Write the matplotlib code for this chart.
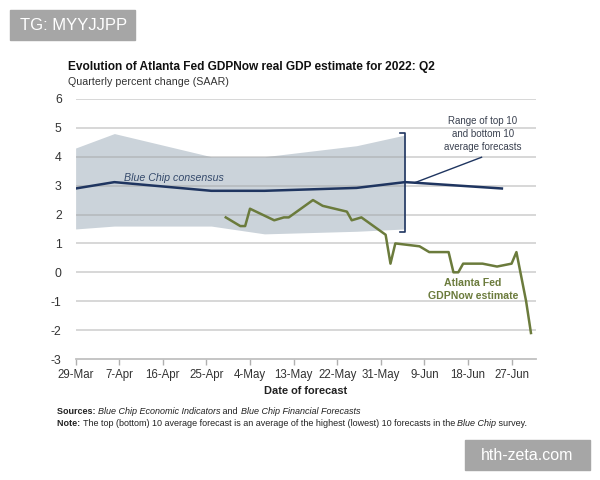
import matplotlib
matplotlib.use("Agg")
import matplotlib.pyplot as plt
import pandas as pd
import numpy as np

plt.rcParams['font.family'] = ['Liberation Sans', 'DejaVu Sans']

start = pd.Timestamp("2022-03-29")

# Range of top 10 / bottom 10 average forecasts
band_dates = ["2022-03-29", "2022-04-06", "2022-04-26", "2022-05-07", "2022-05-26", "2022-06-05"]
band_top = [4.3, 4.8, 4.0, 4.0, 4.38, 4.75]
band_bottom = [1.5, 1.6, 1.6, 1.33, 1.42, 1.5]

# Blue Chip consensus
bc_dates = ["2022-03-29", "2022-04-06", "2022-04-26", "2022-05-07", "2022-05-26", "2022-06-05", "2022-06-07", "2022-06-25"]
bc_values = [2.9, 3.12, 2.82, 2.82, 2.92, 3.12, 3.1, 2.9]

# Atlanta Fed GDPNow estimate
gdp_dates = ["2022-04-29", "2022-05-02", "2022-05-03", "2022-05-04", "2022-05-09", "2022-05-11",
             "2022-05-12", "2022-05-17", "2022-05-19", "2022-05-24", "2022-05-25", "2022-05-27",
             "2022-06-01", "2022-06-02", "2022-06-03", "2022-06-08", "2022-06-10", "2022-06-14",
             "2022-06-15", "2022-06-16", "2022-06-17", "2022-06-21", "2022-06-24", "2022-06-27",
             "2022-06-28", "2022-06-30", "2022-07-01"]
gdp_values = [1.9, 1.6, 1.6, 2.2, 1.8, 1.9,
              1.9, 2.5, 2.3, 2.1, 1.8, 1.9,
              1.3, 0.3, 1.0, 0.9, 0.7, 0.7,
              0.0, 0.0, 0.3, 0.3, 0.2, 0.3,
              0.7, -1.0, -2.1]

tick_labels = ["29-Mar", "7-Apr", "16-Apr", "25-Apr", "4-May", "13-May", "22-May", "31-May", "9-Jun", "18-Jun", "27-Jun"]
y_ticks = [6, 5, 4, 3, 2, 1, 0, -1, -2, -3]


def days(ds):
    return np.array([(pd.Timestamp(d) - start).days for d in ds], dtype=float)


fig = plt.figure(figsize=(6, 4.8), dpi=100)
ax = fig.add_axes([0.126, 0.252, 0.767, 0.542])

bx = days(band_dates)
ax.fill_between(bx, band_bottom, band_top, color="#cbd3da", lw=0, zorder=1)

for yv in y_ticks[:-1]:
    ax.axhline(yv, color="#a0a0a0", alpha=0.45, lw=1.3, zorder=2)

navy = "#1f3560"
olive = "#6b7b3c"
ax.plot(days(bc_dates), bc_values, color=navy, lw=1.8, zorder=4)
ax.plot(days(gdp_dates), gdp_values, color=olive, lw=1.8, zorder=5)

# bracket at end of band
bxe = bx[-1]
ax.plot([bxe - 1.0, bxe, bxe, bxe - 1.0], [4.82, 4.82, 1.38, 1.38], color=navy, lw=1.2, zorder=4)

# leader line
ax.plot([70.0, 83.8], [3.1, 3.98], color=navy, lw=1.0, zorder=4)

ax.set_xlim(0, 95)
ax.set_ylim(-3, 6)
xt = np.arange(0, 91, 9)
ax.set_xticks(xt)
ax.set_xticklabels(tick_labels)
ax.set_yticks(y_ticks)
ax.set_yticklabels([str(v) for v in y_ticks])
ax.tick_params(axis='y', length=0, pad=10, labelsize=8.8, labelcolor="#333333")
ax.tick_params(axis='x', length=4, color="#b0b0b0", width=1, pad=3, labelsize=8.3, labelcolor="#333333")
for s in ["top", "right", "left"]:
    ax.spines[s].set_visible(False)
ax.spines["bottom"].set_color("#c0c0c0")
ax.spines["bottom"].set_linewidth(1.3)

ax.set_xlabel("Date of forecast", fontsize=7.9, fontweight="bold", color="#222222", labelpad=4)

ax.text(9.9, 3.26, "Blue Chip consensus", fontsize=7.7, style="italic", color="#34496b",
        ha="left", va="center", zorder=6)
ax.text(84.1, 4.78, "Range of top 10\nand bottom 10\naverage forecasts", fontsize=7.0, color="#3a4150",
        ha="center", va="center", linespacing=1.35, zorder=6)
ax.text(82.0, -0.6, "Atlanta Fed\nGDPNow estimate", fontsize=7.6, fontweight="bold", color=olive,
        ha="center", va="center", linespacing=1.3, zorder=6)

fig.text(68/600, 1 - 67/480, "Evolution of Atlanta Fed GDPNow real GDP estimate for 2022: Q2",
         fontsize=8.6, fontweight="bold", color="#111111", ha="left", va="center")
fig.text(68/600, 1 - 82/480, "Quarterly percent change (SAAR)", fontsize=7.7, color="#333333",
         ha="left", va="center")


def rich_line(y, parts):
    x = 57
    renderer = fig.canvas.get_renderer()
    for txt, kw in parts:
        t = fig.text(x/600, 1 - y/480, txt, fontsize=6.5, color="#222222", ha="left", va="center", **kw)
        bb = t.get_window_extent(renderer=renderer)
        x += bb.width


rich_line(412, [("Sources: ", dict(fontweight="bold")),
                ("Blue Chip Economic Indicators", dict(style="italic")),
                (" and ", {}),
                ("Blue Chip Financial Forecasts", dict(style="italic"))])
rich_line(424, [("Note: ", dict(fontweight="bold")),
                ("The top (bottom) 10 average forecast is an average of the highest (lowest) 10 forecasts in the ", {}),
                ("Blue Chip", dict(style="italic")),
                (" survey.", {})])

# watermark boxes
fig.patches.append(plt.Rectangle((10/600, 1 - 40/480), 125/600, 30/480, transform=fig.transFigure,
                                 color="#a6a6a6", zorder=0))
fig.text(20/600, 1 - 25/480, "TG: MYYJJPP", fontsize=12, color="white", ha="left", va="center")
fig.patches.append(plt.Rectangle((465/600, 1 - 470/480), 125/600, 30/480, transform=fig.transFigure,
                                 color="#a6a6a6", zorder=0))
fig.text(527/600, 1 - 455/480, "hth-zeta.com", fontsize=11.5, color="white", ha="center", va="center")

fig.savefig("out.png", dpi=100)
